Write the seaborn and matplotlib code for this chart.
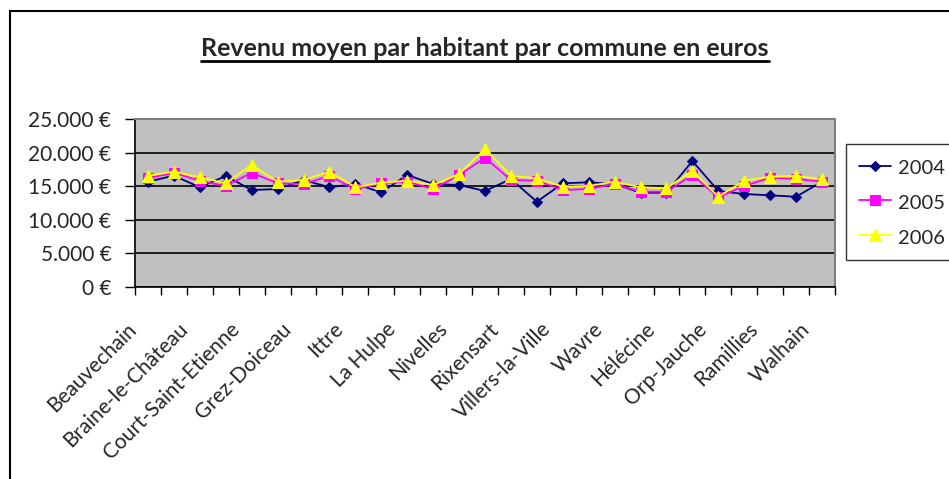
"""Revenu moyen par habitant par commune (Brabant wallon), style Excel."""

import matplotlib
matplotlib.use('Agg')
import matplotlib.pyplot as plt
from matplotlib.lines import Line2D
from matplotlib.patches import Rectangle
from matplotlib.ticker import FuncFormatter, FixedLocator
from matplotlib.transforms import ScaledTranslation
import numpy as np
import pandas as pd
import seaborn as sns

communes = [
    'Beauvechain', "Braine-l'Alleud", 'Braine-le-Château', 'Chaumont-Gistoux',
    'Court-Saint-Etienne', 'Genappe', 'Grez-Doiceau', 'Incourt', 'Ittre',
    'Jodoigne', 'La Hulpe', 'Mont-Saint-Guibert', 'Nivelles', 'Perwez',
    'Rixensart', 'Tubize', 'Villers-la-Ville', 'Waterloo', 'Wavre', 'Chastre',
    'Hélécine', 'Lasne', 'Orp-Jauche', 'Ottignies-Louvain-la-Neuve',
    'Ramillies', 'Rebecq', 'Walhain',
]
rev_2004 = [15670, 16570, 14840, 16520, 14430, 14580, 15920, 14840, 15330,
            14090, 16670, 15330, 15180, 14280, 16070, 12690, 15430, 15580,
            15330, 14030, 14030, 18760, 14280, 13840, 13640, 13430, 15670]
rev_2005 = [16180, 17010, 15780, 15030, 17010, 15430, 15330, 16520, 14540,
            15430, 15670, 14580, 16630, 19250, 15920, 15820, 14430, 14580,
            15330, 14180, 14180, 16670, 13340, 15030, 16270, 16070, 15670]
rev_2006 = [16570, 17160, 16330, 15430, 18160, 15670, 15920, 17160, 14840,
            15520, 15820, 15180, 16820, 20510, 16570, 16180, 14920, 15030,
            15670, 14840, 14690, 17310, 13430, 15820, 16420, 16520, 16070]
years = ['2004', '2005', '2006']
colors = {'2004': '#000080', '2005': '#FF00FF', '2006': '#FFFF00'}
markers = {'2004': 'D', '2005': 's', '2006': '^'}
msizes = {'2004': 5.5, '2005': 6.5, '2006': 8}

pos = np.arange(len(communes))
df = pd.DataFrame({
    'pos': np.tile(pos, 3),
    'revenu': rev_2004 + rev_2005 + rev_2006,
    'annee': np.repeat(years, len(communes)),
})

sns.set_style('white')
plt.rcParams['font.family'] = ['Lato', 'DejaVu Sans']

W, H = 949, 479
fig = plt.figure(figsize=(W / 100, H / 100), dpi=100)
ax = fig.add_axes([135 / W, 1 - 287 / H, 700 / W, (287 - 119) / H])
ax.set_facecolor('#C0C0C0')

for y in years:
    sub = df[df['annee'] == y]
    sns.lineplot(data=sub, x='pos', y='revenu', ax=ax, color=colors[y],
                 marker=markers[y], markersize=msizes[y], markeredgecolor=colors[y],
                 linewidth=1.3, label=y)

ax.set_xlim(-0.5, len(communes) - 0.5)
ax.set_ylim(0, 25000)
ax.set_yticks(np.arange(0, 25001, 5000))
ax.yaxis.set_major_formatter(FuncFormatter(
    lambda v, p: f'{int(v):,} €'.replace(',', '.')))
ax.grid(axis='y', color='black', linewidth=1.2)
ax.set_axisbelow(True)

# category boundaries get the tick marks, every other commune gets a label
ax.xaxis.set_major_locator(FixedLocator(np.arange(-0.5, len(communes), 1)))
ax.xaxis.set_major_formatter(FuncFormatter(lambda v, p: ''))
ax.xaxis.set_minor_locator(FixedLocator(pos[::2]))
ax.set_xticklabels([communes[i] for i in pos[::2]], minor=True, rotation=45,
                   ha='right', va='center', rotation_mode='anchor', fontsize=15)
ax.tick_params(axis='x', which='major', length=6, width=1, color='black',
               direction='out', bottom=True)
ax.tick_params(axis='x', which='minor', length=0, pad=28)
ax.tick_params(axis='y', length=7, width=1, color='black', direction='out',
               left=True, labelsize=15, pad=10)
shift = ScaledTranslation(-15 / 100, 0, fig.dpi_scale_trans)
for lab in ax.get_xticklabels(minor=True):
    lab.set_transform(lab.get_transform() + shift)
ax.set_xlabel('')
ax.set_ylabel('')

for side in ['top', 'right']:
    ax.spines[side].set_color('#808080')
    ax.spines[side].set_linewidth(1.5)
for side in ['left', 'bottom']:
    ax.spines[side].set_color('black')
    ax.spines[side].set_linewidth(1.2)

leg = ax.legend(loc='upper left', bbox_to_anchor=(846 / W, 1 - 144 / H),
                bbox_transform=fig.transFigure, frameon=True, fancybox=False,
                fontsize=14.5, handlelength=1.6, handletextpad=0.35,
                handleheight=1.2, labelspacing=0.7, borderpad=0.65,
                borderaxespad=0)
leg.get_frame().set_edgecolor('black')
leg.get_frame().set_linewidth(1)
leg.get_frame().set_facecolor('white')

# chart area border (left and top visible, the rest runs off the picture)
fig.add_artist(Rectangle((9.5 / W, -0.1), 1.2, 1.1 - 11 / H, fill=False,
                         edgecolor='black', linewidth=1.5,
                         transform=fig.transFigure, clip_on=False))

title = fig.text(485 / W, 1 - 48 / H, 'Revenu moyen par habitant par commune en euros',
                 ha='center', va='center', fontsize=18, fontweight='bold')
fig.canvas.draw()
bb = title.get_window_extent().transformed(fig.transFigure.inverted())
fig.add_artist(Line2D([bb.x0, bb.x1], [bb.y0 - 0.004, bb.y0 - 0.004],
                      color='black', linewidth=2, transform=fig.transFigure))

fig.savefig('out.png', dpi=100)
